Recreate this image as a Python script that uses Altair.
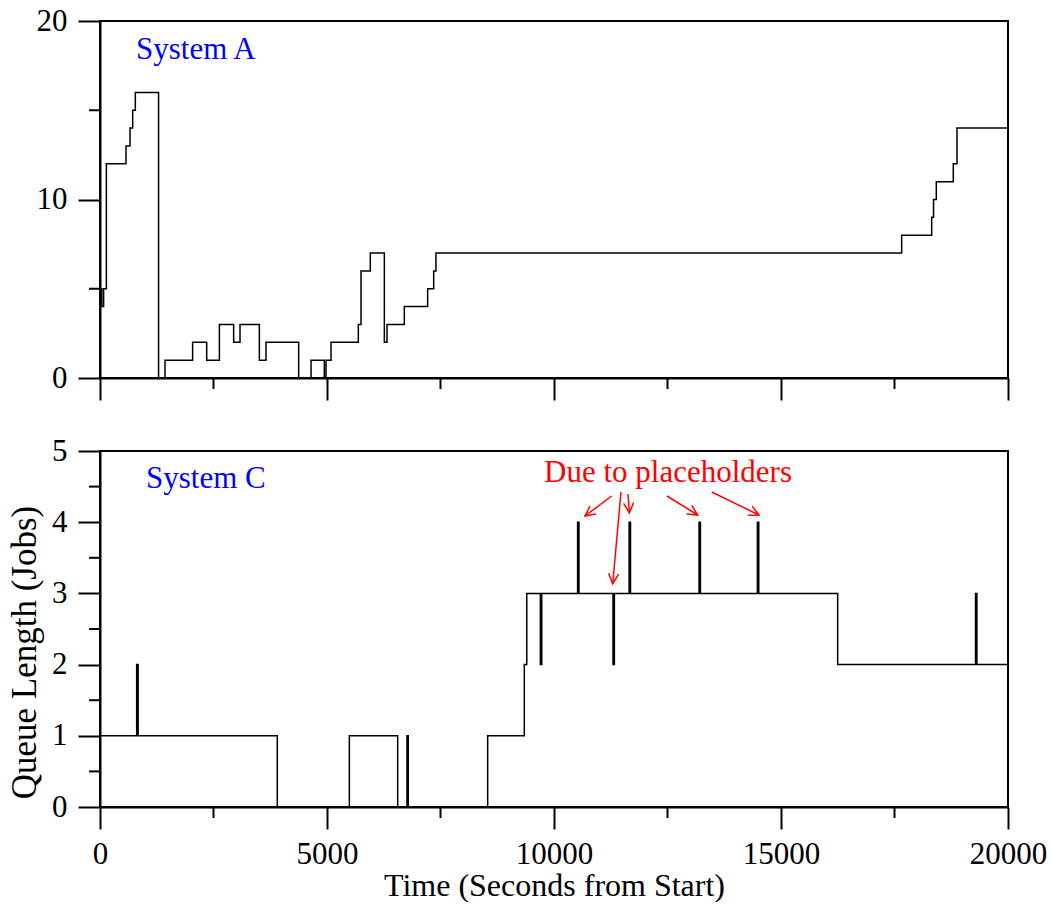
import math
import altair as alt
import pandas as pd

# ---------------- data ----------------
# System A queue length (step function: value holds from time until next time)
a_time = [0, 40, 80, 140, 573, 661, 720, 778, 1290, 1432, 2040, 2350, 2630, 2944, 3084,
          3510, 3656, 4376, 4648, 4941, 4978, 5088, 5690, 5749, 5954, 6263, 6322, 6703,
          7217, 7350, 7400, 17658, 18319, 18360, 18421, 18795, 18877, 20000]
a_jobs = [5, 4, 5, 12, 13, 14, 15, 16, 0, 1, 2, 1, 3, 2, 3,
          1, 2, 0, 1, 0, 1, 2, 3, 6, 7, 2, 3, 4,
          5, 6, 7, 8, 9, 10, 11, 12, 14, 14]

# System C queue length
c_time = [0, 808, 840, 3905, 5492, 6557, 6762, 6790, 8539, 9346, 9400, 9700, 9730,
          10520, 10550, 11300, 11330, 11655, 11685, 13195, 13225, 14480, 14510, 16248,
          19285, 19315, 20000]
c_jobs = [1, 2, 1, 0, 1, 0, 1, 0, 1, 2, 3, 2, 3,
          4, 3, 2, 3, 4, 3, 4, 3, 4, 3, 2,
          3, 2, 2]

x_major = [0, 5000, 10000, 15000, 20000]
x_minor = [2500, 7500, 12500, 17500]
ya_major = [0, 10, 20]
ya_minor = [5, 15]
yc_major = [0, 1, 2, 3, 4, 5]
yc_minor = [0.5, 1.5, 2.5, 3.5, 4.5]

# annotation arrows (data coordinates of System C panel)
arrow_t0 = [11271, 11476, 11630, 12489, 13474]
arrow_v0 = [4.368, 4.424, 4.396, 4.368, 4.424]
arrow_t1 = [10683, 11293, 11659, 13165, 14515]
arrow_v1 = [4.087, 3.136, 4.13, 4.101, 4.101]

labels_a = pd.DataFrame({"t": [793], "v": [17.87], "label": ["System A"]})
labels_c = pd.DataFrame({"t": [1013], "v": [4.485], "label": ["System C"]})
note_c = pd.DataFrame({"t": [12511], "v": [4.565], "label": ["Due to placeholders"]})

# ---------------- layout ----------------
W = 908
HA = 357
HC = 356
FONT = "Liberation Serif"

XS = alt.Scale(domain=[0, 20000], nice=False, zero=False)
YA = alt.Scale(domain=[0, 20], nice=False, zero=False)
YC = alt.Scale(domain=[0, 5], nice=False, zero=False)

AX_X_TOP = alt.Axis(values=x_major, tickSize=22, labels=False, title=None, grid=False)
AX_Y_TOP = alt.Axis(values=ya_major, tickSize=22, labelPadding=11, title=None, grid=False)
AX_X_BOT = alt.Axis(values=x_major, tickSize=22, labelPadding=10, format="d",
                    title="Time (Seconds from Start)", titleFontSize=32,
                    titlePadding=1, grid=False)
AX_Y_BOT = alt.Axis(values=yc_major, tickSize=22, labelPadding=11,
                    title="Queue Length (Jobs)", titleFontSize=35,
                    titleAngle=270, titleX=-65, titleY=201,
                    titleAlign="center", titleBaseline="alphabetic", grid=False)

df_a = pd.DataFrame({"t": a_time, "v": a_jobs})
df_c = pd.DataFrame({"t": c_time, "v": c_jobs})

# arrow head angles in screen space
px_x = W / 20000.0
px_y = HC / 5.0
angles = []
for t0, v0, t1, v1 in zip(arrow_t0, arrow_v0, arrow_t1, arrow_v1):
    dx = (t1 - t0) * px_x
    dy = -(v1 - v0) * px_y
    angles.append(math.degrees(math.atan2(dy, dx)) % 360)
df_arrows = pd.DataFrame({"t0": arrow_t0, "v0": arrow_v0, "t1": arrow_t1,
                          "v1": arrow_v1, "ang": angles})


def minor_x(h, axx):
    return alt.Chart(pd.DataFrame({"t": x_minor})).mark_rule(
        color="black", strokeWidth=2).encode(
        x=alt.X("t:Q", scale=XS, axis=axx),
        y=alt.value(h), y2=alt.value(h + 11))


def minor_y(vals, scale, axy):
    return alt.Chart(pd.DataFrame({"v": vals})).mark_rule(
        color="black", strokeWidth=2).encode(
        y=alt.Y("v:Q", scale=scale, axis=axy),
        x=alt.value(-11), x2=alt.value(0))


line_a = alt.Chart(df_a).mark_line(
    interpolate="step-after", color="black", strokeWidth=1.5).encode(
    x=alt.X("t:Q", scale=XS, axis=AX_X_TOP),
    y=alt.Y("v:Q", scale=YA, axis=AX_Y_TOP),
)
text_a = alt.Chart(labels_a).mark_text(
    align="left", baseline="alphabetic", font=FONT, fontSize=31, color="#0000ff").encode(
    x=alt.X("t:Q", scale=XS, axis=AX_X_TOP),
    y=alt.Y("v:Q", scale=YA, axis=AX_Y_TOP),
    text="label:N")

top = alt.layer(line_a, minor_x(HA, AX_X_TOP), minor_y(ya_minor, YA, AX_Y_TOP),
                text_a).properties(width=W, height=HA)

line_c = alt.Chart(df_c).mark_line(
    interpolate="step-after", color="black", strokeWidth=1.5).encode(
    x=alt.X("t:Q", scale=XS, axis=AX_X_BOT),
    y=alt.Y("v:Q", scale=YC, axis=AX_Y_BOT),
)
text_c = alt.Chart(labels_c).mark_text(
    align="left", baseline="alphabetic", font=FONT, fontSize=31, color="#0000ff").encode(
    x=alt.X("t:Q", scale=XS, axis=AX_X_BOT),
    y=alt.Y("v:Q", scale=YC, axis=AX_Y_BOT),
    text="label:N")
text_note = alt.Chart(note_c).mark_text(
    align="center", baseline="alphabetic", font=FONT, fontSize=31, color="#ff0000").encode(
    x=alt.X("t:Q", scale=XS, axis=AX_X_BOT),
    y=alt.Y("v:Q", scale=YC, axis=AX_Y_BOT),
    text="label:N")
arrows = alt.Chart(df_arrows).mark_rule(color="#ff0000", strokeWidth=1.5).encode(
    x=alt.X("t0:Q", scale=XS, axis=AX_X_BOT),
    y=alt.Y("v0:Q", scale=YC, axis=AX_Y_BOT),
    x2="t1:Q", y2="v1:Q")
heads = alt.Chart(df_arrows).mark_point(
    shape="M-1,-0.5L0,0L-1,0.5", filled=False, color="#ff0000", strokeWidth=1.5,
    size=400, opacity=1).encode(
    x=alt.X("t1:Q", scale=XS, axis=AX_X_BOT),
    y=alt.Y("v1:Q", scale=YC, axis=AX_Y_BOT),
    angle=alt.Angle("ang:Q", scale=None))

bottom = alt.layer(line_c, minor_x(HC, AX_X_BOT), minor_y(yc_minor, YC, AX_Y_BOT),
                   text_c, text_note, arrows, heads).properties(width=W, height=HC)

chart = alt.vconcat(top, bottom, spacing=32).properties(
    padding={"left": 5, "top": 4, "right": 0, "bottom": 0},
    background="white",
).configure_view(
    stroke="black", strokeWidth=2
).configure_axis(
    domainColor="black", domainWidth=2, tickColor="black", tickWidth=2,
    labelFont=FONT, labelFontSize=31, labelColor="black", labelFlush=False,
    labelOverlap=False, titleFont=FONT, titleColor="black", titleFontWeight="normal",
    grid=False,
)

chart.save("out.html", embed_options={"renderer": "svg", "actions": False})
